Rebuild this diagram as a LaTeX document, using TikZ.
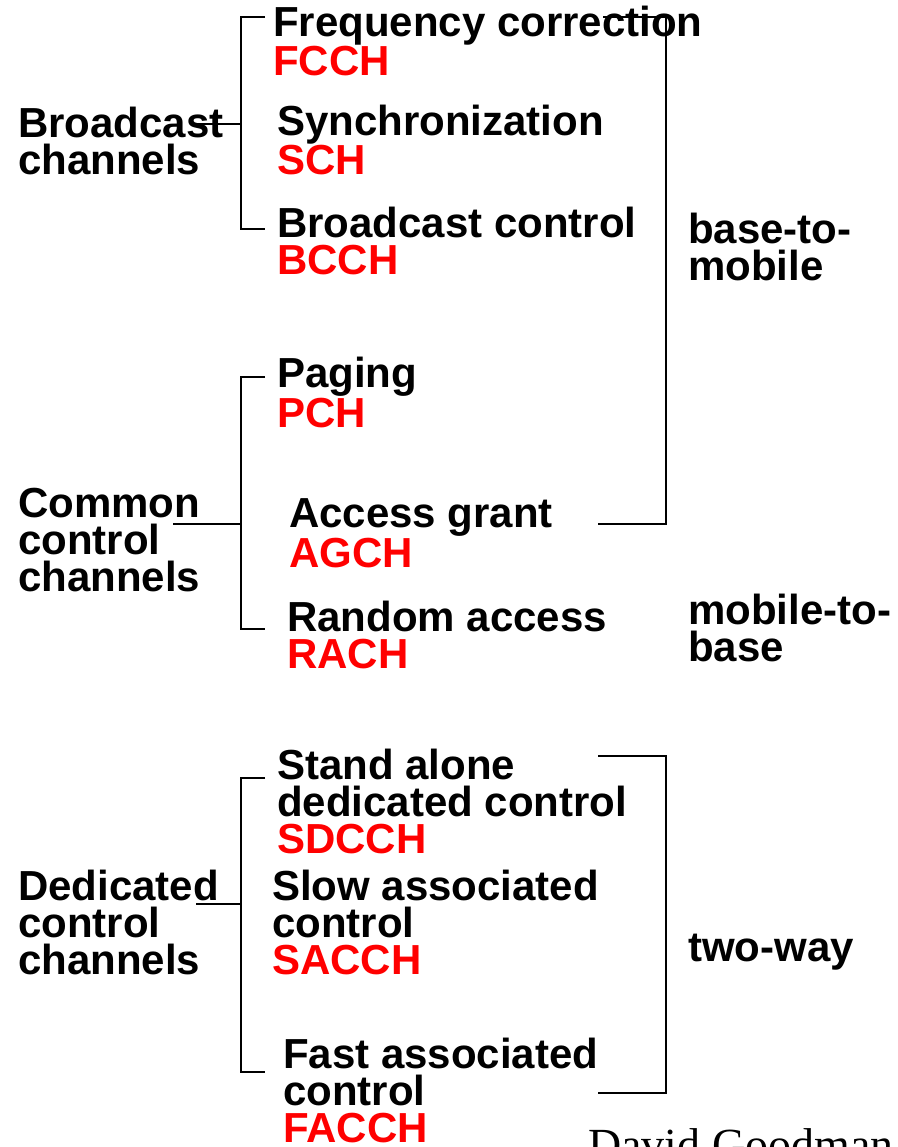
\documentclass[tikz,border=0pt]{standalone}
\usepackage{fontspec}
\setmainfont{Liberation Sans}
\newfontfamily\signfont{Liberation Serif}
\usetikzlibrary{positioning}

\begin{document}
\begin{tikzpicture}[
  x=1pt,y=-1pt,
  font=\fontsize{42}{37}\selectfont\bfseries,
  lbl/.style={anchor=base west,inner sep=0pt,align=left},
  brk/.style={line width=1.3pt}
]
\useasboundingbox (0,0) rectangle (897,1147);

% group names on the left (placed by their last line)
\node[lbl] (bcast) at (18,175) {Broadcast\\channels};
\node[lbl] (common) at (18,591) {Common\\control\\channels};
\node[lbl] (dedic) at (18,974) {Dedicated\\control\\channels};

% logical channels
\node[lbl] (fcch) at (273,76) {Frequency correction\\\textcolor{red}{FCCH}};
\node[lbl] (sch) at (277,175) {Synchronization\\\textcolor{red}{SCH}};
\node[lbl] (bcch) at (277,275) {Broadcast control\\\textcolor{red}{BCCH}};
\node[lbl] (pch) at (277,427) {Paging\\\textcolor{red}{PCH}};
\node[lbl] (agch) at (289,567) {Access grant\\\textcolor{red}{AGCH}};
\node[lbl] (rach) at (287,668) {Random access\\\textcolor{red}{RACH}};
\node[lbl] (sdcch) at (277,853) {Stand alone\\dedicated control\\\textcolor{red}{SDCCH}};
\node[lbl] (sacch) at (272,974) {Slow associated\\control\\\textcolor{red}{SACCH}};
\node[lbl] (facch) at (283,1142) {Fast associated\\control\\\textcolor{red}{FACCH}};

% directions
\node[lbl] (down) at (688,281) {base-to-\\mobile};
\node[lbl] (up) at (688,661) {mobile-to-\\base};
\node[lbl] (both) at (688,961) {two-way};

\node[anchor=base west,inner sep=0pt,font=\signfont\fontsize{46}{46}\selectfont]
  (sign) at (588,1160) {David Goodman};

% left brackets
\coordinate (bcTop) at (265,17);
\coordinate (bcBot) at (265,229);
\coordinate (bcJoin) at (241,124);
\draw[brk] (bcTop) -- ++(-24,0) |- (bcBot);
\draw[brk] (190,124) -- (bcJoin);

\coordinate (ccTop) at (265,377);
\coordinate (ccBot) at (265,629);
\coordinate (ccJoin) at (241,524);
\draw[brk] (ccTop) -- ++(-24,0) |- (ccBot);
\draw[brk] (173,524) -- (ccJoin);

\coordinate (dcTop) at (265,778);
\coordinate (dcBot) at (265,1072);
\coordinate (dcJoin) at (241,904);
\draw[brk] (dcTop) -- ++(-24,0) |- (dcBot);
\draw[brk] (196,904) -- (dcJoin);

% right brackets
\coordinate (dnTop) at (603,17);
\coordinate (dnBot) at (598,524);
\draw[brk] (dnTop) -- ++(63,0) |- (dnBot);

\coordinate (twTop) at (598,756);
\coordinate (twBot) at (598,1093);
\draw[brk] (twTop) -- ++(68,0) |- (twBot);
\end{tikzpicture}
\end{document}
